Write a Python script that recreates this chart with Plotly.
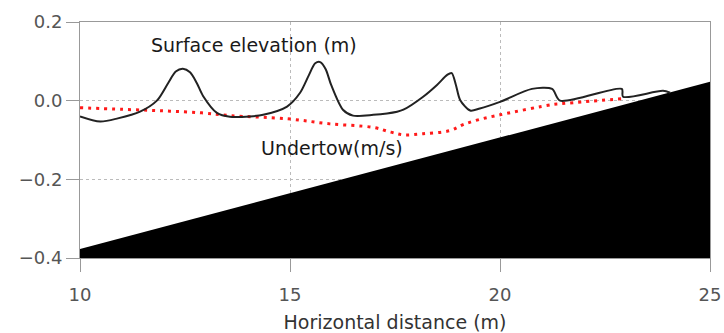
import plotly.graph_objects as go

# Surface elevation (m)
surf_x = [10.0, 10.48, 10.9, 11.43, 11.83, 12.1, 12.28, 12.45, 12.62, 12.78, 12.93, 13.26, 13.57, 14.05, 14.36, 14.93,
          15.24, 15.45, 15.6, 15.72, 15.85, 15.98, 16.26, 16.5, 16.98, 17.55, 17.7, 18.17, 18.5, 18.75, 18.85,
          18.95, 19.05, 19.29, 19.52, 20.0, 20.76, 21.24, 21.43, 22.9, 22.93, 23.88, 24.05]
surf_y = [-0.040, -0.053, -0.045, -0.028, 0.0, 0.045, 0.074, 0.081, 0.072, 0.045, 0.012, -0.031, -0.041, -0.040, -0.036, -0.015,
          0.020, 0.065, 0.095, 0.098, 0.080, 0.040, -0.023, -0.038, -0.036, -0.028, -0.023, 0.010, 0.040, 0.066, 0.070,
          0.040, 0.002, -0.025, -0.020, -0.003, 0.030, 0.030, 0.0, 0.030, 0.010, 0.025, 0.020]

# Undertow (m/s)
und_x = [10.0, 11.0, 12.0, 12.9, 13.57, 14.93, 15.95, 16.98, 17.4, 17.7, 18.17, 18.81, 19.12, 19.5, 20.0, 21.24, 21.43, 22.9]
und_y = [-0.018, -0.022, -0.026, -0.031, -0.038, -0.046, -0.059, -0.068, -0.080, -0.087, -0.084, -0.076, -0.061,
         -0.048, -0.036, -0.010, -0.008, 0.005]

# Sloping bed
bed_x = [10.0, 25.0]
bed_y = [-0.377, 0.048]
y_bottom = -0.4

x_ticks = [10, 15, 20, 25]
y_ticks = [0.2, 0.0, -0.2, -0.4]
y_ticktext = ["0.2", "0.0", "\u22120.2", "\u22120.4"]

FONT = "DejaVu Sans"

fig = go.Figure()
fig.add_trace(go.Scatter(
    x=bed_x + bed_x[::-1], y=bed_y + [y_bottom, y_bottom],
    fill="toself", fillcolor="black", mode="lines", line=dict(color="black", width=0),
    hoverinfo="skip", showlegend=False))
fig.add_trace(go.Scatter(
    x=und_x, y=und_y, mode="lines", line=dict(color="#ff1a1a", width=3, dash="3px,5px", shape="spline"),
    showlegend=False))
fig.add_trace(go.Scatter(
    x=surf_x, y=surf_y, mode="lines", line=dict(color="#222222", width=2, shape="spline", smoothing=0.8),
    showlegend=False))

fig.add_annotation(x=14.14, y=0.142, text="Surface elevation (m)", showarrow=False,
                   font=dict(family=FONT, size=19, color="#1a1a1a"), xanchor="center", yanchor="middle")
fig.add_annotation(x=16.0, y=-0.12, text="Undertow(m/s)", showarrow=False,
                   font=dict(family=FONT, size=19, color="#1a1a1a"), xanchor="center", yanchor="middle")

fig.update_layout(
    width=724, height=333, margin=dict(l=80, r=14, t=22, b=75),
    paper_bgcolor="white", plot_bgcolor="white",
    font=dict(family=FONT),
    xaxis=dict(range=[10, 25], tickvals=x_ticks, ticks="outside", ticklen=13, tickcolor="#999",
               showline=True, linecolor="#999", mirror=True, showgrid=True, gridcolor="#bbb", griddash="dot",
               gridwidth=1, zeroline=False, tickfont=dict(size=18, color="#555"), automargin=False,
               ticklabelstandoff=7,
               title=dict(text="Horizontal distance (m)", font=dict(size=19, color="#333"), standoff=22)),
    yaxis=dict(range=[-0.4, 0.2], tickvals=y_ticks, ticktext=y_ticktext, ticks="outside", ticklen=13,
               tickcolor="#999", showline=True, linecolor="#999", mirror=True, showgrid=True, gridcolor="#bbb",
               griddash="dot", gridwidth=1, zeroline=False, tickfont=dict(size=18, color="#555"),
               automargin=False),
)

fig.write_html("out.html")
